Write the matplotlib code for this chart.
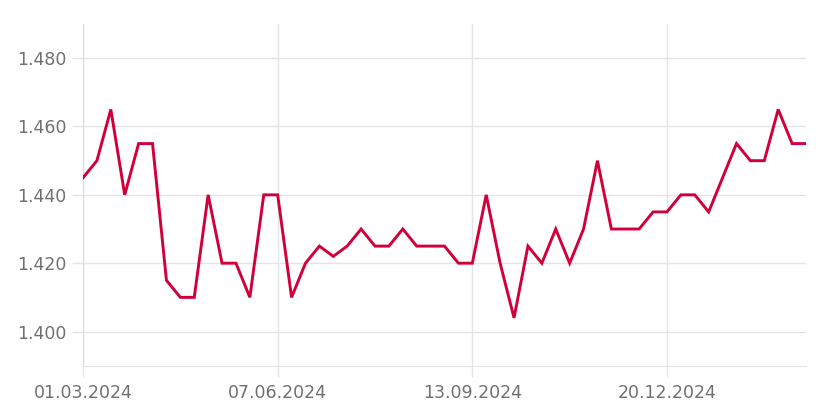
import pandas as pd
import matplotlib
matplotlib.use("Agg")
import matplotlib.pyplot as plt
import matplotlib.dates as mdates

# Wöchentliche Werte ab 01.03.2024
fecha_inicio = "2024-03-01"
valores = [
    1.445, 1.450, 1.465, 1.440, 1.455, 1.455, 1.415, 1.410, 1.410, 1.440,
    1.420, 1.420, 1.410, 1.440, 1.440, 1.410, 1.420, 1.425, 1.422, 1.425,
    1.430, 1.425, 1.425, 1.430, 1.425, 1.425, 1.425, 1.420, 1.420, 1.440,
    1.420, 1.404, 1.425, 1.420, 1.430, 1.420, 1.430, 1.450, 1.430, 1.430,
    1.430, 1.435, 1.435, 1.440, 1.440, 1.435, 1.445, 1.455, 1.450, 1.450,
    1.465, 1.455, 1.455,
]
ticks_x = ["2024-03-01", "2024-06-07", "2024-09-13", "2024-12-20"]
ticks_y = [1.400, 1.420, 1.440, 1.460, 1.480]

fechas = pd.date_range(fecha_inicio, periods=len(valores), freq="7D")

COLOR_LINEA = "#d1003a"
COLOR_GRID = "#e1e5e8"
COLOR_TEXTO = "#707070"

fig = plt.figure(figsize=(8.26, 4.17), dpi=100)
ax = fig.add_axes([0.1005, 0.123, 0.8753, 0.8195])

ax.plot(fechas, valores, color=COLOR_LINEA, linewidth=2.1, solid_joinstyle="miter", zorder=3)

ax.set_xlim(fechas[0], fechas[-1])
ax.set_ylim(1.39, 1.49)
ax.set_yticks(ticks_y)
ax.set_yticklabels([f"{v:.3f}" for v in ticks_y])
ax.set_xticks(pd.to_datetime(ticks_x))
ax.xaxis.set_major_formatter(mdates.DateFormatter("%d.%m.%Y"))

ax.grid(True, color=COLOR_GRID, linewidth=1, zorder=0)
for lado in ["top", "right"]:
    ax.spines[lado].set_visible(False)
ax.spines["left"].set_color("#d8dcdf")
ax.spines["bottom"].set_color(COLOR_GRID)

ax.tick_params(axis="both", length=8, width=1, color=COLOR_GRID,
               labelcolor=COLOR_TEXTO, labelsize=12.5)
ax.tick_params(axis="x", pad=5)
ax.tick_params(axis="y", pad=4)

fig.savefig("out.png", dpi=100)
plt.close(fig)
